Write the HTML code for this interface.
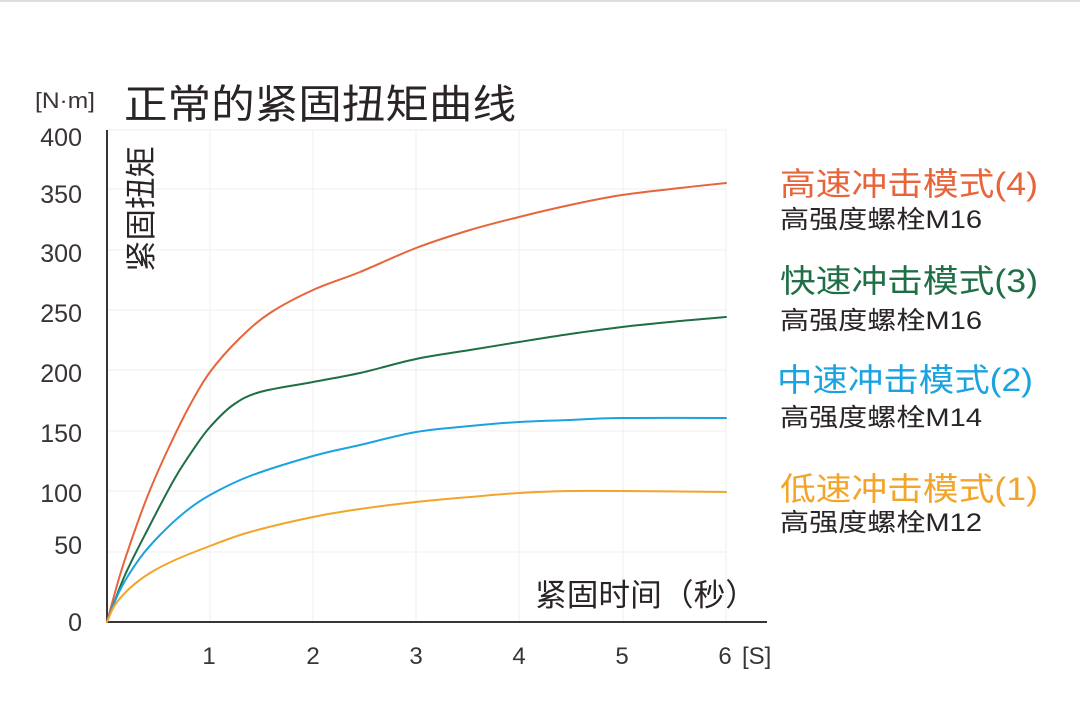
<!DOCTYPE html>
<html><head><meta charset="utf-8"><style>
html,body{margin:0;padding:0;background:#fff;}
svg{display:block;}
text{font-family:"Liberation Sans","Noto Sans CJK SC",sans-serif;}
</style></head><body>
<svg id="s" width="1080" height="710" viewBox="0 0 1080 710" xmlns="http://www.w3.org/2000/svg">
<rect width="1080" height="710" fill="#fff"/>
<line x1="0" y1="1" x2="1080" y2="1" stroke="#ddd" stroke-width="2"/>
<g stroke="#efefef" stroke-width="1">
<line x1="107" y1="130" x2="726" y2="130"/>
<line x1="107" y1="189" x2="726" y2="189"/>
<line x1="107" y1="250" x2="726" y2="250"/>
<line x1="107" y1="310" x2="726" y2="310"/>
<line x1="107" y1="370" x2="726" y2="370"/>
<line x1="107" y1="431" x2="726" y2="431"/>
<line x1="107" y1="491" x2="726" y2="491"/>
<line x1="107" y1="552" x2="726" y2="552"/>
<line x1="210" y1="130" x2="210" y2="622"/>
<line x1="313" y1="130" x2="313" y2="622"/>
<line x1="416" y1="130" x2="416" y2="622"/>
<line x1="519" y1="130" x2="519" y2="622"/>
<line x1="623" y1="130" x2="623" y2="622"/>
<line x1="726" y1="130" x2="726" y2="622"/>
</g>
<line x1="107" y1="130" x2="107" y2="623" stroke="#3a3434" stroke-width="2"/>
<line x1="106" y1="622" x2="767" y2="622" stroke="#3a3434" stroke-width="2"/>
<g fill="none" stroke-width="2" stroke-linejoin="round" stroke-linecap="round">
<path id="p1" stroke="#e8643a" data-pts="107,622 120,575 135,530 150,490 170,445 190,405 210,372 240,338 270,313 313,290 360,272 416,248 470,230 519,217 570,205 622,195 680,188 726,183"/>
<path id="p2" stroke="#1e6e46" data-pts="107,622 125,575 150,525 175,478 195,447 210,427 233,405 260,392 313,382 360,373 416,359 470,350 519,342 570,334 622,327 680,321 726,317"/>
<path id="p3" stroke="#1ba3e0" data-pts="107,622 120,590 140,558 160,535 185,512 210,495 250,476 313,456 360,445 416,432 470,426 519,422 570,420 622,418 726,418"/>
<path id="p4" stroke="#f2a52a" data-pts="107,622 115,605 130,588 150,573 175,560 210,546 250,532 313,517 360,509 416,502 470,497 519,493 570,491 622,491 726,492"/>
</g>
<text x="35" y="108" font-size="22" fill="#3a3434" textLength="60" lengthAdjust="spacingAndGlyphs">[N·m]</text>
<text x="124" y="118" font-size="40" fill="#2a2424" textLength="392" lengthAdjust="spacingAndGlyphs">正常的紧固扭矩曲线</text>
<g font-size="25" fill="#3a3434" text-anchor="end">
<text x="82" y="146">400</text>
<text x="82" y="203">350</text>
<text x="82" y="262">300</text>
<text x="82" y="322">250</text>
<text x="82" y="382">200</text>
<text x="82" y="442">150</text>
<text x="82" y="502">100</text>
<text x="82" y="554">50</text>
<text x="82" y="631">0</text>
</g>
<g font-size="24" fill="#3a3434" text-anchor="middle">
<text x="209" y="664">1</text>
<text x="313" y="664">2</text>
<text x="416" y="664">3</text>
<text x="519" y="664">4</text>
<text x="622" y="664">5</text>
<text x="725" y="664">6</text>
</g>
<text x="742" y="664" font-size="24" fill="#3a3434">[S]</text>
<text x="535" y="606" font-size="31" fill="#2a2424" textLength="222" lengthAdjust="spacingAndGlyphs">紧固时间（秒）</text>
<text transform="translate(152,272) rotate(-90)" font-size="31" fill="#2a2424" textLength="126" lengthAdjust="spacingAndGlyphs">紧固扭矩</text>
<g font-size="32">
<text x="780" y="195" fill="#e8643a" textLength="258" lengthAdjust="spacingAndGlyphs">高速冲击模式(4)</text>
<text x="780" y="292" fill="#1e6e46" textLength="258" lengthAdjust="spacingAndGlyphs">快速冲击模式(3)</text>
<text x="777" y="391" fill="#1ba3e0" textLength="256" lengthAdjust="spacingAndGlyphs">中速冲击模式(2)</text>
<text x="780" y="500" fill="#f2a52a" textLength="258" lengthAdjust="spacingAndGlyphs">低速冲击模式(1)</text>
</g>
<g font-size="25" fill="#2a2424">
<text x="780" y="228" textLength="202" lengthAdjust="spacingAndGlyphs">高强度螺栓M16</text>
<text x="780" y="329" textLength="202" lengthAdjust="spacingAndGlyphs">高强度螺栓M16</text>
<text x="780" y="426" textLength="202" lengthAdjust="spacingAndGlyphs">高强度螺栓M14</text>
<text x="780" y="531" textLength="202" lengthAdjust="spacingAndGlyphs">高强度螺栓M12</text>
</g>
</svg>
<script>
['p1','p2','p3','p4'].forEach(function(id){
  var el=document.getElementById(id);
  var p=el.getAttribute('data-pts').split(' ').map(function(s){return s.split(',').map(Number);});
  var d='M'+p[0][0]+','+p[0][1];
  for(var i=0;i<p.length-1;i++){
    var p0=p[i-1]||p[i],p1=p[i],p2=p[i+1],p3=p[i+2]||p2;
    var c1x=p1[0]+(p2[0]-p0[0])/6,c1y=p1[1]+(p2[1]-p0[1])/6;
    var c2x=p2[0]-(p3[0]-p1[0])/6,c2y=p2[1]-(p3[1]-p1[1])/6;
    d+=' C'+c1x.toFixed(1)+','+c1y.toFixed(1)+' '+c2x.toFixed(1)+','+c2y.toFixed(1)+' '+p2[0]+','+p2[1];
  }
  el.setAttribute('d',d);
});
</script>
</body></html>
